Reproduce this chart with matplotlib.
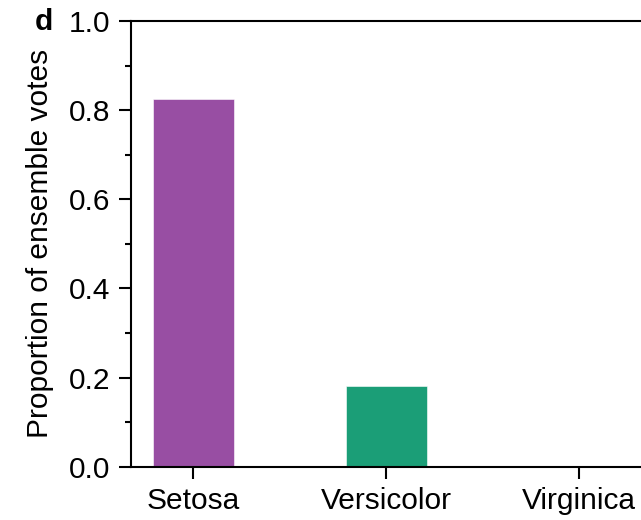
import matplotlib
matplotlib.use("Agg")
import matplotlib.pyplot as plt

categories = ["Setosa", "Versicolor", "Virginica"]
vote_share = [0.825, 0.181, 0.0]
bar_colors = ["#984ea3", "#1b9e77", "#d95f02"]

plt.rcParams["font.family"] = ["Liberation Sans", "DejaVu Sans"]
plt.rcParams["font.size"] = 21.5

fig = plt.figure(figsize=(6.41, 5.2), dpi=100)
# axes runs slightly past the right edge, like the cropped original
ax = fig.add_axes([130.7 / 641, (520 - 466.7) / 520, (644.5 - 130.7) / 641, (466.7 - 21) / 520])

ax.bar(range(len(categories)), vote_share, width=0.42, color=bar_colors,
       edgecolor="white", linewidth=0.4)
ax.set_xticks(range(len(categories)))
ax.set_xticklabels(categories)
ax.set_xlim(-0.325, 2.34)
ax.set_ylim(0, 1.0)
ax.set_yticks([0, 0.2, 0.4, 0.6, 0.8, 1.0])
ax.set_yticks([0.1, 0.3, 0.5, 0.7, 0.9], minor=True)
ax.set_ylabel("Proportion of ensemble votes")
ax.yaxis.set_label_coords(-0.15, 0.5)

for s in ax.spines.values():
    s.set_linewidth(1.5)
ax.tick_params(which="major", length=8.5, width=1.5, pad=6)
ax.tick_params(which="minor", length=4.5, width=1.5)

fig.text(44 / 641, 1 - 22 / 520, "d", fontweight="bold", fontsize=21.5,
         ha="center", va="center")

fig.savefig("out.png", dpi=100)
